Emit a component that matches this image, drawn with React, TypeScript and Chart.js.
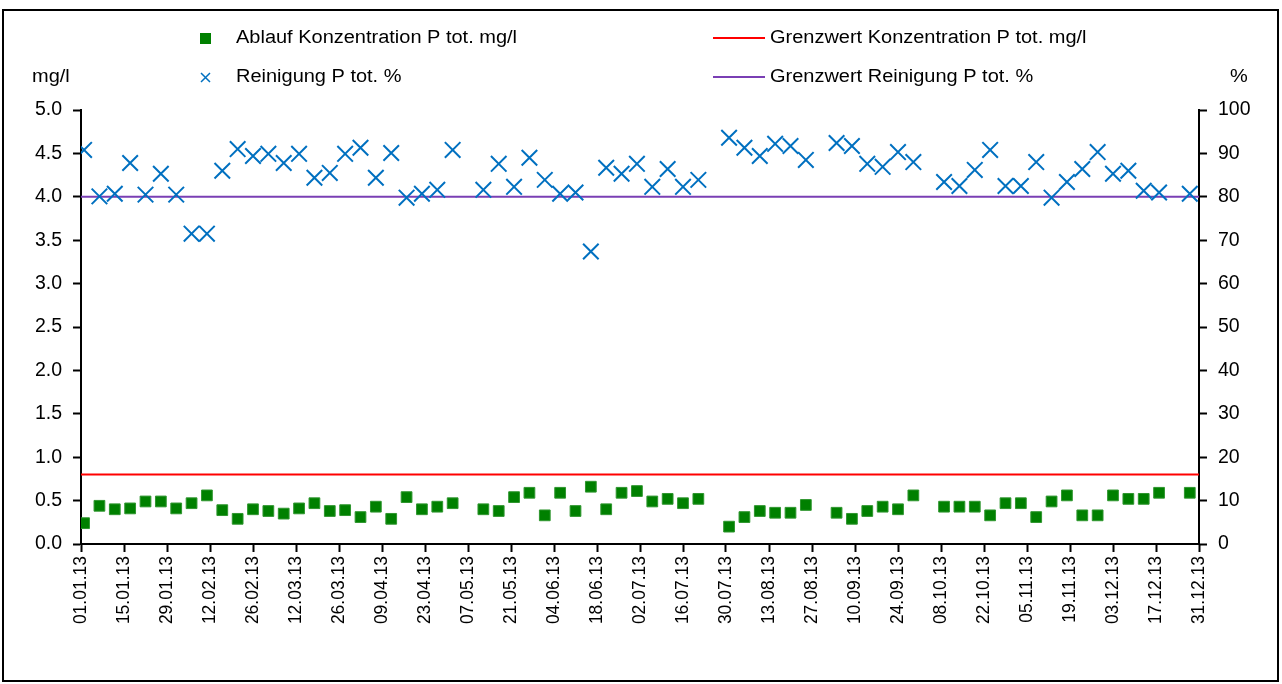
import React, { useEffect, useRef } from 'react';
import { Chart, registerables } from 'chart.js';

Chart.register(...registerables);

// ---- Data ----
const sampleDates: string[] = [
  '02.01.13', '07.01.13', '12.01.13', '17.01.13', '22.01.13', '27.01.13', '01.02.13', '06.02.13',
  '11.02.13', '16.02.13', '21.02.13', '26.02.13', '03.03.13', '08.03.13', '13.03.13', '18.03.13',
  '23.03.13', '28.03.13', '02.04.13', '07.04.13', '12.04.13', '17.04.13', '22.04.13', '27.04.13',
  '02.05.13', '12.05.13', '17.05.13', '22.05.13', '27.05.13', '01.06.13', '06.06.13', '11.06.13',
  '16.06.13', '21.06.13', '26.06.13', '01.07.13', '06.07.13', '11.07.13', '16.07.13', '21.07.13',
  '31.07.13', '05.08.13', '10.08.13', '15.08.13', '20.08.13', '25.08.13', '04.09.13', '09.09.13',
  '14.09.13', '19.09.13', '24.09.13', '29.09.13', '09.10.13', '14.10.13', '19.10.13', '24.10.13',
  '29.10.13', '03.11.13', '08.11.13', '13.11.13', '18.11.13', '23.11.13', '28.11.13', '03.12.13',
  '08.12.13', '13.12.13', '18.12.13', '28.12.13',
];

const ablaufKonzentration: number[] = [
  0.24, 0.44, 0.40, 0.41, 0.49, 0.49, 0.41, 0.47, 0.56, 0.39, 0.29, 0.40, 0.38, 0.35, 0.41, 0.47,
  0.38, 0.39, 0.31, 0.43, 0.29, 0.54, 0.40, 0.43, 0.47, 0.40, 0.38, 0.54, 0.59, 0.33, 0.59, 0.38,
  0.66, 0.40, 0.59, 0.61, 0.49, 0.52, 0.47, 0.52, 0.20, 0.31, 0.38, 0.36, 0.36, 0.45, 0.36, 0.29,
  0.38, 0.43, 0.40, 0.56, 0.43, 0.43, 0.43, 0.33, 0.47, 0.47, 0.31, 0.49, 0.56, 0.33, 0.33, 0.56,
  0.52, 0.52, 0.59, 0.59,
];

const reinigungProzent: number[] = [
  90.8, 80.1, 80.7, 87.8, 80.5, 85.3, 80.5, 71.5, 71.5, 86.0, 91.0, 89.4, 89.9, 87.8, 89.9, 84.4,
  85.5, 89.9, 91.3, 84.4, 90.1, 79.8, 80.7, 81.6, 90.8, 81.6, 87.6, 82.3, 89.0, 83.9, 80.7, 81.0,
  67.4, 86.7, 85.3, 87.6, 82.3, 86.4, 82.3, 83.9, 93.6, 91.3, 89.4, 92.2, 91.7, 88.5, 92.4, 91.7,
  87.6, 86.9, 90.3, 88.0, 83.4, 82.5, 86.2, 90.8, 82.5, 82.5, 88.0, 79.8, 83.4, 86.4, 90.3, 85.3,
  86.0, 81.4, 81.0, 80.7,
];

const limitDates: string[] = ['01.01.13', '31.12.13'];
const grenzwertKonzentration: number[] = [0.8, 0.8];
const grenzwertReinigung: number[] = [80, 80];

const seriesLabels: string[] = [
  'Ablauf Konzentration P tot. mg/l',
  'Grenzwert Konzentration P tot. mg/l',
  'Reinigung P tot. %',
  'Grenzwert Reinigung P tot. %',
];
const axisTitles: string[] = ['mg/l', '%'];

const axisStart = '01.01.13';
const axisEnd = '31.12.13';
const tickStepDays = 14;
const leftAxis = { min: 0, max: 5, step: 0.5 };
const rightAxis = { min: 0, max: 100, step: 10 };

// ---- Helpers ----
const DAY = 86400000;
const parseDate = (s: string) => {
  const [d, m, y] = s.split('.').map(Number);
  return Date.UTC(2000 + y, m - 1, d);
};
const origin = parseDate(axisStart);
const toDay = (s: string) => Math.round((parseDate(s) - origin) / DAY);
const pad2 = (n: number) => (n < 10 ? '0' : '') + n;
const formatDay = (v: number) => {
  const dt = new Date(origin + Math.round(v) * DAY);
  return `${pad2(dt.getUTCDate())}.${pad2(dt.getUTCMonth() + 1)}.${String(dt.getUTCFullYear()).slice(2)}`;
};

const FONT = "'Liberation Sans', Arial, sans-serif";
const GREEN = '#008000';
const BLUE = '#0070C0';
const RED = '#FF0000';
const PURPLE = '#7A3FB4';
const STRETCH = 1.11;

const frameAndLegend = {
  id: 'frameAndLegend',
  beforeDraw(chart: any) {
    const ctx = chart.ctx;
    ctx.save();
    ctx.fillStyle = '#fff';
    ctx.fillRect(0, 0, chart.width, chart.height);
    ctx.strokeStyle = '#000';
    ctx.lineWidth = 2;
    ctx.strokeRect(3, 10, 1275, 671);
    ctx.restore();
  },
  afterDraw(chart: any) {
    const ctx = chart.ctx;
    ctx.save();
    const row1 = 38;
    const row2 = 77;
    // green square
    ctx.fillStyle = GREEN;
    ctx.fillRect(200, row1 - 5, 11, 11);
    // blue cross
    ctx.strokeStyle = BLUE;
    ctx.lineWidth = 1.5;
    ctx.beginPath();
    ctx.moveTo(201, row2 - 4);
    ctx.lineTo(210, row2 + 5);
    ctx.moveTo(210, row2 - 4);
    ctx.lineTo(201, row2 + 5);
    ctx.stroke();
    // red line
    ctx.lineWidth = 2;
    ctx.strokeStyle = RED;
    ctx.beginPath();
    ctx.moveTo(713, row1);
    ctx.lineTo(765, row1);
    ctx.stroke();
    ctx.strokeStyle = PURPLE;
    ctx.beginPath();
    ctx.moveTo(713, row2);
    ctx.lineTo(765, row2);
    ctx.stroke();

    ctx.font = `18px ${FONT}`;
    ctx.fillStyle = '#000';
    ctx.textBaseline = 'middle';
    const text = (s: string, x: number, y: number, align: 'left' | 'center') => {
      ctx.save();
      ctx.translate(x, y);
      ctx.scale(STRETCH, 1);
      ctx.textAlign = align;
      ctx.fillText(s, 0, 0);
      ctx.restore();
    };
    text(seriesLabels[0], 236, row1, 'left');
    text(seriesLabels[1], 770, row1, 'left');
    text(seriesLabels[2], 236, row2, 'left');
    text(seriesLabels[3], 770, row2, 'left');
    text(axisTitles[0], 32, row2, 'left');
    text(axisTitles[1], 1239, row2, 'center');
    ctx.restore();
  },
};

export default function App() {
  const ref = useRef<HTMLCanvasElement | null>(null);

  useEffect(() => {
    if (!ref.current) return;
    const xs = sampleDates.map(toDay);
    const lx = limitDates.map(toDay);
    const yFont = { family: FONT, size: 19.5 };
    const xFont = { family: FONT, size: 17.5 };
    const chart = new Chart(ref.current, {
      type: 'scatter',
      data: {
        datasets: [
          {
            label: seriesLabels[0],
            data: xs.map((x, i) => ({ x, y: ablaufKonzentration[i] })),
            yAxisID: 'y',
            pointStyle: 'rect',
            pointRadius: 7.6,
            backgroundColor: GREEN,
            borderColor: '#2f962f',
            borderWidth: 1,
            showLine: false,
            order: 1,
          },
          {
            label: seriesLabels[1],
            data: lx.map((x, i) => ({ x, y: grenzwertKonzentration[i] })),
            yAxisID: 'y',
            showLine: true,
            borderColor: RED,
            borderWidth: 2,
            pointRadius: 0,
            order: 3,
          },
          {
            label: seriesLabels[2],
            data: xs.map((x, i) => ({ x, y: reinigungProzent[i] })),
            yAxisID: 'y2',
            pointStyle: 'crossRot',
            pointRadius: 11,
            borderColor: BLUE,
            backgroundColor: BLUE,
            borderWidth: 2,
            showLine: false,
            order: 0,
          },
          {
            label: seriesLabels[3],
            data: lx.map((x, i) => ({ x, y: grenzwertReinigung[i] })),
            yAxisID: 'y2',
            showLine: true,
            borderColor: PURPLE,
            borderWidth: 2,
            pointRadius: 0,
            order: 2,
          },
        ],
      },
      options: {
        responsive: false,
        animation: false,
        events: [],
        layout: { padding: { top: 110, left: 0, right: 0, bottom: 0 } },
        plugins: {
          legend: { display: false },
          tooltip: { enabled: false },
        },
        scales: {
          x: {
            type: 'linear',
            position: 'bottom',
            min: 0,
            max: toDay(axisEnd),
            afterFit: (s: any) => { s.height = 140; },
            ticks: {
              stepSize: tickStepDays,
              autoSkip: false,
              minRotation: 90,
              maxRotation: 90,
              padding: 4,
              color: '#000',
              font: xFont,
              callback: (v: any) => formatDay(Number(v)),
            },
            grid: { drawOnChartArea: false, drawTicks: true, tickLength: 8, tickWidth: 2, tickColor: '#000' },
            border: { display: true, color: '#000', width: 2 },
          },
          y: {
            type: 'linear',
            position: 'left',
            min: leftAxis.min,
            max: leftAxis.max,
            afterFit: (s: any) => { s.width = 81; },
            ticks: {
              stepSize: leftAxis.step,
              padding: 11,
              color: '#000',
              font: yFont,
              callback: (v: any) => Number(v).toFixed(1),
            },
            grid: { drawOnChartArea: false, drawTicks: true, tickLength: 8, tickWidth: 2, tickColor: '#000' },
            border: { display: true, color: '#000', width: 2 },
          },
          y2: {
            type: 'linear',
            position: 'right',
            min: rightAxis.min,
            max: rightAxis.max,
            afterFit: (s: any) => { s.width = 83; },
            ticks: {
              stepSize: rightAxis.step,
              padding: 11,
              color: '#000',
              font: yFont,
            },
            grid: { drawOnChartArea: false, drawTicks: true, tickLength: 8, tickWidth: 2, tickColor: '#000' },
            border: { display: true, color: '#000', width: 2 },
          },
        },
      },
      plugins: [frameAndLegend],
    });
    return () => chart.destroy();
  }, []);

  return (
    <div style={{ position: 'absolute', left: 0, top: 0, width: 1282, height: 684, background: '#fff' }}>
      <canvas ref={ref} width={1282} height={684} style={{ display: 'block' }} />
    </div>
  );
}
